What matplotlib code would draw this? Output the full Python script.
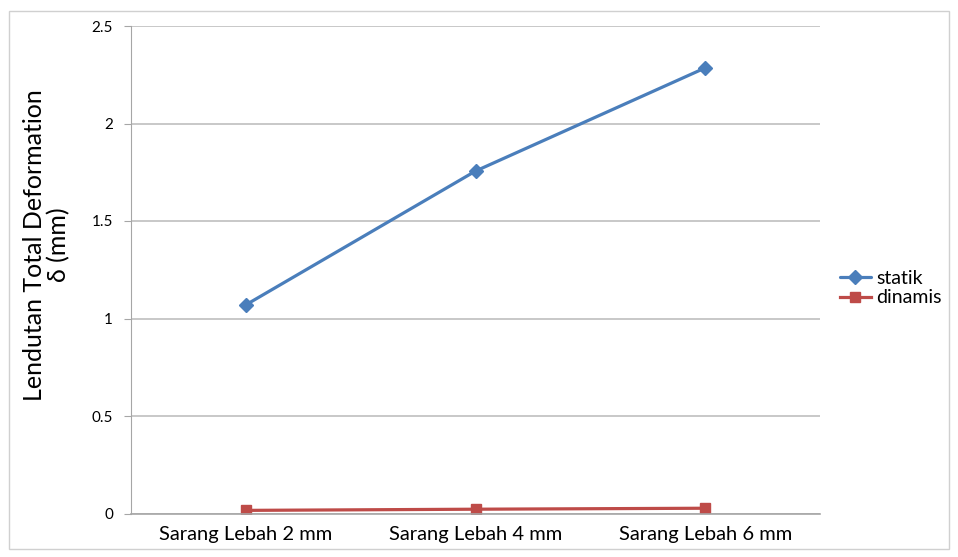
import matplotlib
matplotlib.use("Agg")
import matplotlib.pyplot as plt
from matplotlib.patches import Rectangle

categories = ["Sarang Lebah 2 mm", "Sarang Lebah 4 mm", "Sarang Lebah 6 mm"]
statik = [1.07, 1.756, 2.285]
dinamis = [0.016, 0.022, 0.027]
y_ticks = [0, 0.5, 1, 1.5, 2, 2.5]
y_tick_labels = ["0", "0.5", "1", "1.5", "2", "2.5"]

plt.rcParams["font.family"] = ["Lato", "DejaVu Sans"]

fig = plt.figure(figsize=(9.58, 5.57), dpi=100)
fig.patches.append(Rectangle((9 / 958, 1 - 549 / 557), 940 / 958, 538 / 557,
                             transform=fig.transFigure, fill=False,
                             edgecolor="#d0d0d0", linewidth=1.0))

ax = fig.add_axes([131 / 958, 1 - 513.5 / 557, 689 / 958, 487.5 / 557])
x = list(range(len(categories)))

ax.plot(x, statik, color="#4a7ebb", linewidth=2.3, marker="D", markersize=7,
        label="statik", solid_capstyle="round")
ax.plot(x, dinamis, color="#be4b48", linewidth=2.3, marker="s", markersize=7.5,
        label="dinamis")

ax.set_xlim(-0.5, len(categories) - 0.5)
ax.set_ylim(0, 2.5)
ax.set_yticks(y_ticks)
ax.set_yticklabels(y_tick_labels, fontsize=11)
ax.set_xticks(x)
ax.set_xticklabels(categories, fontsize=14.5)
ax.tick_params(axis="x", length=0, pad=9)
ax.tick_params(axis="y", length=5, color="#a6a6a6", pad=8)

ax.yaxis.grid(True, color="#bfbfbf", linewidth=1.2)
ax.set_axisbelow(True)
for side in ["top", "right"]:
    ax.spines[side].set_visible(False)
ax.spines["left"].set_color("#a6a6a6")
ax.spines["bottom"].set_color("#a6a6a6")
ax.spines["bottom"].set_linewidth(1.2)

ax.set_ylabel("Lendutan Total Deformation\nδ (mm)", fontsize=18,
              linespacing=1.05)
ax.yaxis.set_label_coords(-0.088, 0.551)

fig.legend(loc="center left", bbox_to_anchor=(822 / 958, 1 - 288 / 557),
           frameon=False, fontsize=14, handlelength=1.6, handletextpad=0.3,
           labelspacing=0.15)

fig.savefig("out.png", dpi=100)
